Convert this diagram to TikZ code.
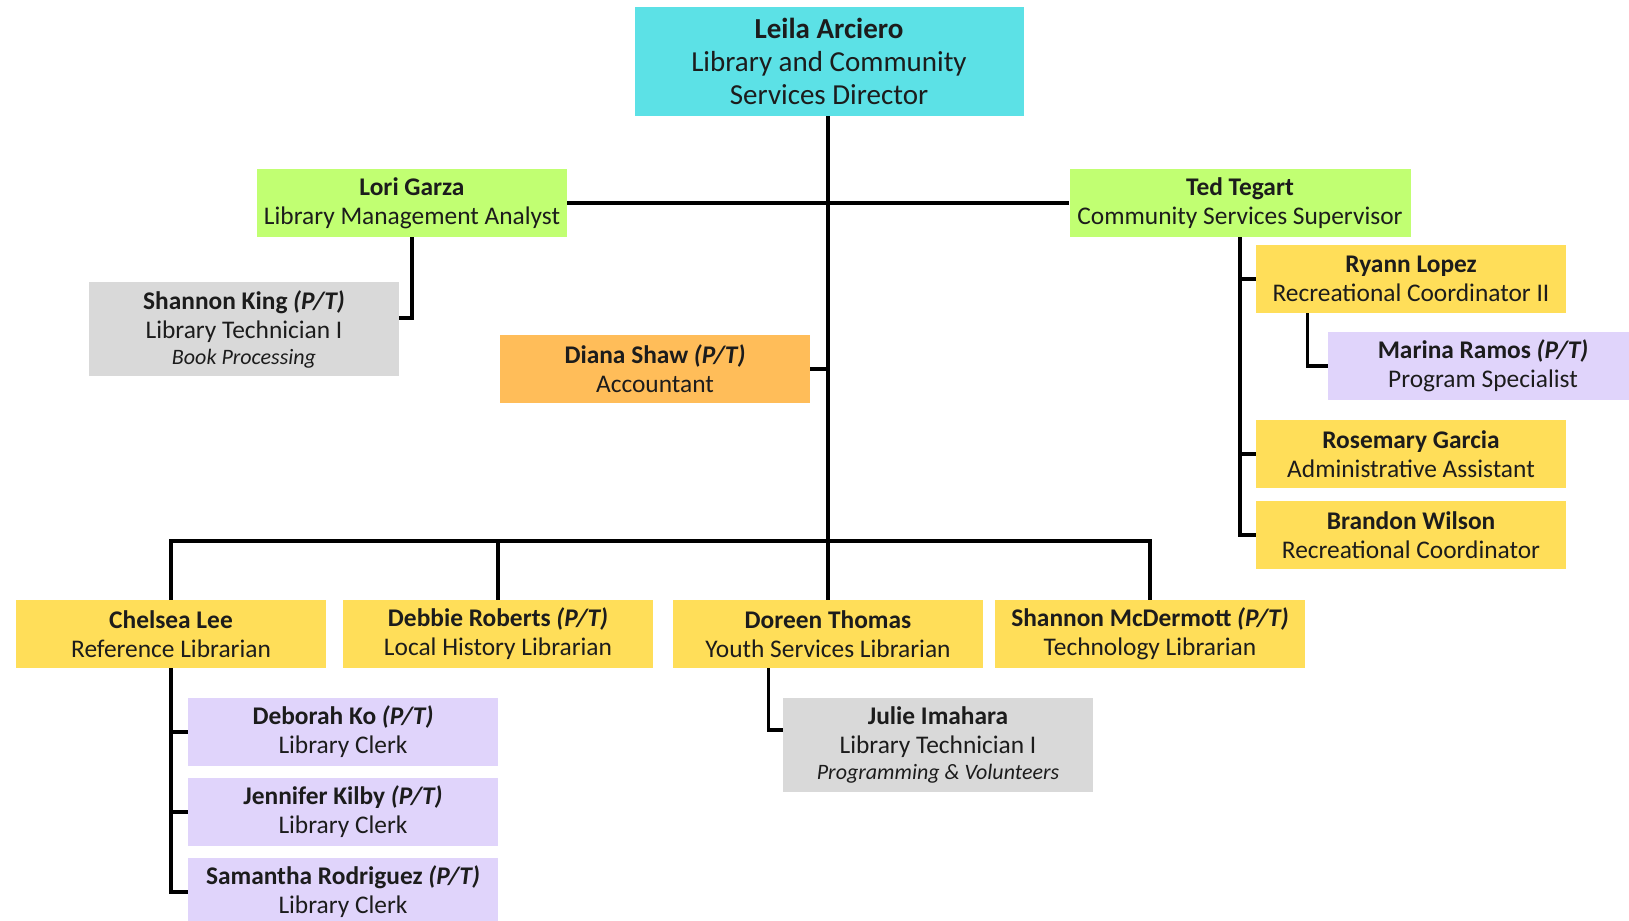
\documentclass[tikz,border=0pt]{standalone}
\usepackage{fontspec}
\setmainfont{Carlito}
\usepackage{tikz}
\usetikzlibrary{positioning}
\definecolor{directorcyan}{HTML}{5CE1E6}
\definecolor{leadgreen}{HTML}{C1FF72}
\definecolor{staffyellow}{HTML}{FFDE59}
\definecolor{acctorange}{HTML}{FFBD59}
\definecolor{clerkpurple}{HTML}{E0D4FB}
\definecolor{techgray}{HTML}{D9D9D9}
\definecolor{inkdark}{HTML}{1C1C1C}

\begin{document}
\begin{tikzpicture}[x=0.5pt, y=-0.5pt,
  card/.style={inner sep=0pt, align=center, text=inkdark, minimum width=155pt, minimum height=34pt,
    font=\fontsize{12.7}{14.5}\selectfont},
  tallcard/.style={card, minimum height=47pt},
  link/.style={line width=1.7pt, black}]
  \clip (0,0) rectangle (1629,921);
  % top
  \node[card, fill=directorcyan, minimum width=194.5pt, minimum height=54.5pt,
    font=\fontsize{14.5}{16.5}\selectfont] (leila) at (829,61)
    {\textbf{Leila Arciero}\\Library and Community\\Services Director};
  \node[card, fill=leadgreen] (lori) at (412,203) {\textbf{Lori Garza}\\Library Management Analyst};
  \node[card, fill=leadgreen, minimum width=170.5pt] (ted) at (1240,203)
    {\textbf{Ted Tegart}\\Community Services Supervisor};
  \node[tallcard, fill=techgray] (sking) at (244,329)
    {\textbf{Shannon King \textit{(P/T)}}\\Library Technician I\\[-1.5pt]{\fontsize{11}{12}\selectfont\itshape Book Processing}};
  \node[card, fill=acctorange] (diana) at (655,369) {\textbf{Diana Shaw \textit{(P/T)}}\\Accountant};
  % community services
  \node[card, fill=staffyellow] (ryann) at (1411,279) {\textbf{Ryann Lopez}\\Recreational Coordinator II};
  \node[card, fill=clerkpurple] (marina) at (1483,366) {\textbf{Marina Ramos \textit{(P/T)}}\\Program Specialist};
  \node[card, fill=staffyellow] (rosemary) at (1411,454) {\textbf{Rosemary Garcia}\\Administrative Assistant};
  \node[card, fill=staffyellow] (brandon) at (1411,535) {\textbf{Brandon Wilson}\\Recreational Coordinator};
  % librarians
  \node[card, fill=staffyellow] (chelsea) at (171,634) {\textbf{Chelsea Lee}\\Reference Librarian};
  \node[card, fill=staffyellow] (debbie) at (498,634) {\textbf{Debbie Roberts \textit{(P/T)}}\\Local History Librarian};
  \node[card, fill=staffyellow] (doreen) at (828,634) {\textbf{Doreen Thomas}\\Youth Services Librarian};
  \node[card, fill=staffyellow] (smcd) at (1150,634) {\textbf{Shannon McDermott \textit{(P/T)}}\\Technology Librarian};
  \node[card, fill=clerkpurple] (deborah) at (343,732) {\textbf{Deborah Ko \textit{(P/T)}}\\Library Clerk};
  \node[card, fill=clerkpurple] (jennifer) at (343,812) {\textbf{Jennifer Kilby \textit{(P/T)}}\\Library Clerk};
  \node[card, fill=clerkpurple] (samantha) at (343,892) {\textbf{Samantha Rodriguez \textit{(P/T)}}\\Library Clerk};
  \node[tallcard, fill=techgray] (julie) at (938,745)
    {\textbf{Julie Imahara}\\Library Technician I\\[-1.5pt]{\fontsize{11}{12}\selectfont\itshape Programming \& Volunteers}};
  % connectors
  \coordinate (hub) at (828,541);
  \draw[link] (leila.south -| hub) -- (hub);
  \draw[link] (lori.east) -- (ted.west);
  \draw[link] (diana.east) -- (diana.east -| hub);
  \foreach \n in {chelsea, debbie, doreen, smcd}
    \draw[link] (hub) -| (\n.north);
  \draw[link] (lori.south) |- ([yshift=5.5pt]sking.east);
  \foreach \n in {ryann, rosemary, brandon}
    \draw[link] (ted.south) |- (\n.west);
  \draw[link] ([xshift=26pt]ryann.south west) |- (marina.west);
  \foreach \n in {deborah, jennifer, samantha}
    \draw[link] (chelsea.south) |- (\n.west);
  \draw[link] ([xshift=48pt]doreen.south west) |- ([yshift=7.5pt]julie.west);
\end{tikzpicture}
\end{document}
